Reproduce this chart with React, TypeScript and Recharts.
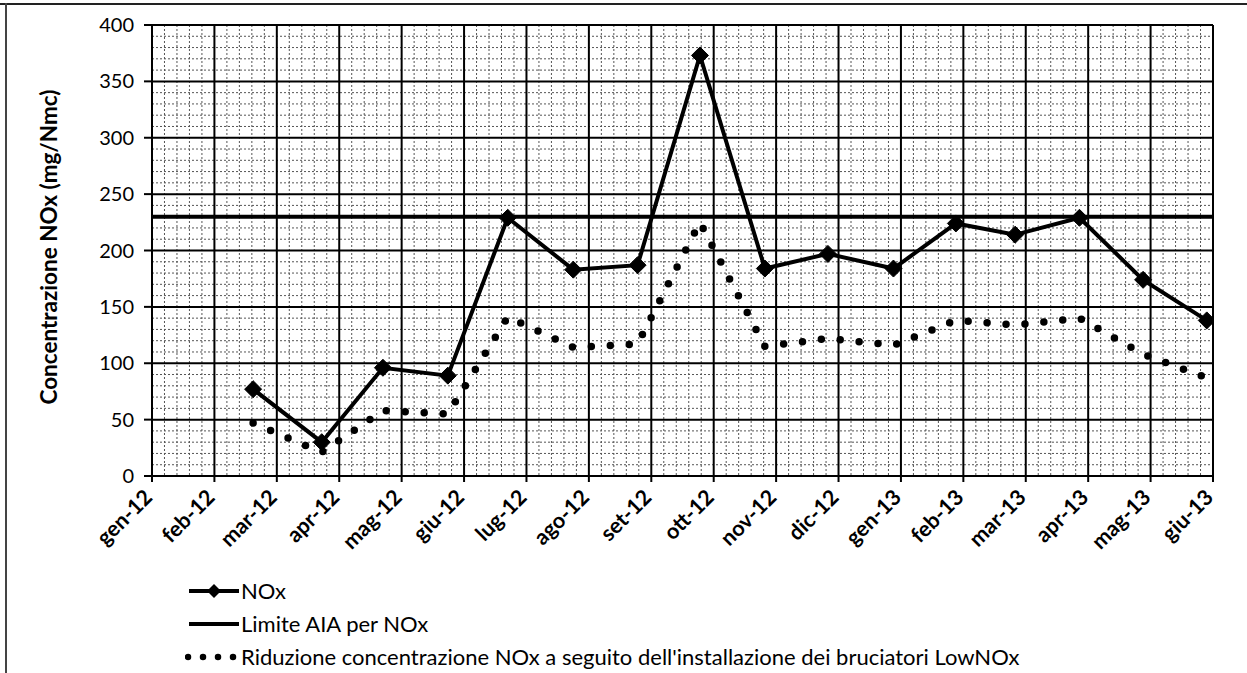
import React from 'react';
import { LineChart, Line, XAxis, YAxis, CartesianGrid, Legend } from 'recharts';

// ---- data ----
const tickLabels = ['gen-12', 'feb-12', 'mar-12', 'apr-12', 'mag-12', 'giu-12', 'lug-12', 'ago-12', 'set-12', 'ott-12', 'nov-12', 'dic-12', 'gen-13', 'feb-13', 'mar-13', 'apr-13', 'mag-13', 'giu-13'];
const sampleMonths = [1.62, 2.72, 3.7, 4.74, 5.7, 6.75, 7.78, 8.78, 9.82, 10.83, 11.88, 12.88, 13.83, 14.86, 15.88, 16.9];
const noxValues = [77, 30, 96, 89, 229, 183, 187, 373, 184, 197, 184, 224, 214, 229, 174, 138];
const lowNoxValues = [47, 21, 58, 55, 141, 114, 117, 225, 115, 122, 116, 138, 134, 140, 108, 87];
const limitValue = 230;
const limitSpan = [0, 17];
const yTicks = [0, 50, 100, 150, 200, 250, 300, 350, 400];

const seriesNames = {
  nox: 'NOx',
  limit: 'Limite AIA per NOx',
  low: "Riduzione concentrazione NOx a seguito dell'installazione dei bruciatori LowNOx",
};

const tableData = sampleMonths.map((m, i) => ({ x: m, nox: noxValues[i], low: lowNoxValues[i] }));
const limitData = limitSpan.map((x) => ({ x, limit: limitValue }));
const xTicks = tickLabels.map((_, i) => i);

const minorX: number[] = [];
for (let i = 0; i < 17; i++) for (let k = 1; k < 5; k++) minorX.push(i + k * 0.2);
const minorY: number[] = [];
for (let v = 0; v <= 400; v += 10) if (v % 50 !== 0) minorY.push(v);

const FONT = 'Lato, "Open Sans", sans-serif';

const Diamond = (props: any) => {
  const { cx, cy } = props;
  if (cx == null || cy == null) return null;
  const r = 8.5;
  return <polygon points={`${cx},${cy - r} ${cx + r},${cy} ${cx},${cy + r} ${cx - r},${cy}`} fill="#000" stroke="#000" strokeWidth={1} />;
};

const XTick = (props: any) => {
  const { x, y, payload } = props;
  return (
    <g transform={`translate(${x - 6},${y + 7})`}>
      <text x={0} y={0} dy="0.5em" textAnchor="end" transform="rotate(-45)" fontFamily={FONT} fontWeight={700} fontSize={21.5} fill="#000">
        {tickLabels[payload.value]}
      </text>
    </g>
  );
};

const YLabel = () => (
  <text x={48} y={247} transform="rotate(-90 48 247)" textAnchor="middle" dominantBaseline="central" fontFamily={FONT} fontWeight={700} fontSize={22.5} fill="#000">
    Concentrazione NOx (mg/Nmc)
  </text>
);

const renderLegend = () => (
  <div style={{ fontFamily: FONT, fontSize: 22, color: '#000', lineHeight: '33px' }}>
    <div style={{ display: 'flex', alignItems: 'center' }}>
      <svg width={56} height={20}>
        <line x1={4} y1={10} x2={54} y2={10} stroke="#000" strokeWidth={4} />
        <polygon points="29,3 36,10 29,17 22,10" fill="#000" />
      </svg>
      <span>{seriesNames.nox}</span>
    </div>
    <div style={{ display: 'flex', alignItems: 'center' }}>
      <svg width={56} height={20}>
        <line x1={4} y1={10} x2={54} y2={10} stroke="#000" strokeWidth={4} />
      </svg>
      <span>{seriesNames.limit}</span>
    </div>
    <div style={{ display: 'flex', alignItems: 'center' }}>
      <svg width={56} height={20}>
        <line x1={3} y1={10} x2={49} y2={10} stroke="#000" strokeWidth={6.5} strokeDasharray="0 15" strokeLinecap="round" />
      </svg>
      <span>{seriesNames.low}</span>
    </div>
  </div>
);

export default function App() {
  return (
    <div style={{ position: 'absolute', left: 0, top: 0, width: 1247, height: 673, background: '#fff', overflow: 'hidden' }}>
      <div style={{ position: 'absolute', left: 0, top: 3, width: 1247, height: 2, background: '#222' }} />
      <div style={{ position: 'absolute', left: 5, top: 3, width: 2, height: 670, background: '#444' }} />
      <LineChart width={1247} height={673} margin={{ top: 25, right: 34, bottom: 167, left: 0 }} data={tableData}>
        <CartesianGrid verticalValues={minorX} horizontalValues={minorY} stroke="#555" strokeWidth={1} strokeDasharray="2 2" />
        <CartesianGrid verticalValues={xTicks} horizontalValues={yTicks} stroke="#000" strokeWidth={2} />
        <XAxis
          dataKey="x"
          type="number"
          domain={[0, 17]}
          ticks={xTicks}
          interval={0}
          allowDataOverflow
          tick={<XTick />}
          tickSize={6}
          tickMargin={2}
          height={30}
          stroke="#000"
          strokeWidth={2}
        />
        <YAxis
          type="number"
          domain={[0, 400]}
          ticks={yTicks}
          interval={0}
          width={152}
          tickSize={8}
          tickMargin={10}
          stroke="#000"
          strokeWidth={2}
          tick={{ fontFamily: FONT, fontSize: 20, fill: '#000' }}
          label={<YLabel />}
        />
        <Legend layout="horizontal" verticalAlign="middle" align="center" wrapperStyle={{ left: 185, top: 574, width: 1050 }} content={renderLegend} />
        <Line data={limitData} dataKey="limit" name={seriesNames.limit} stroke="#000" strokeWidth={4} dot={false} activeDot={false} isAnimationActive={false} />
        <Line dataKey="low" name={seriesNames.low} stroke="#000" strokeWidth={7.5} strokeDasharray="0 19" strokeLinecap="round" dot={false} activeDot={false} isAnimationActive={false} />
        <Line dataKey="nox" name={seriesNames.nox} stroke="#000" strokeWidth={4} dot={<Diamond />} activeDot={false} isAnimationActive={false} />
      </LineChart>
    </div>
  );
}
